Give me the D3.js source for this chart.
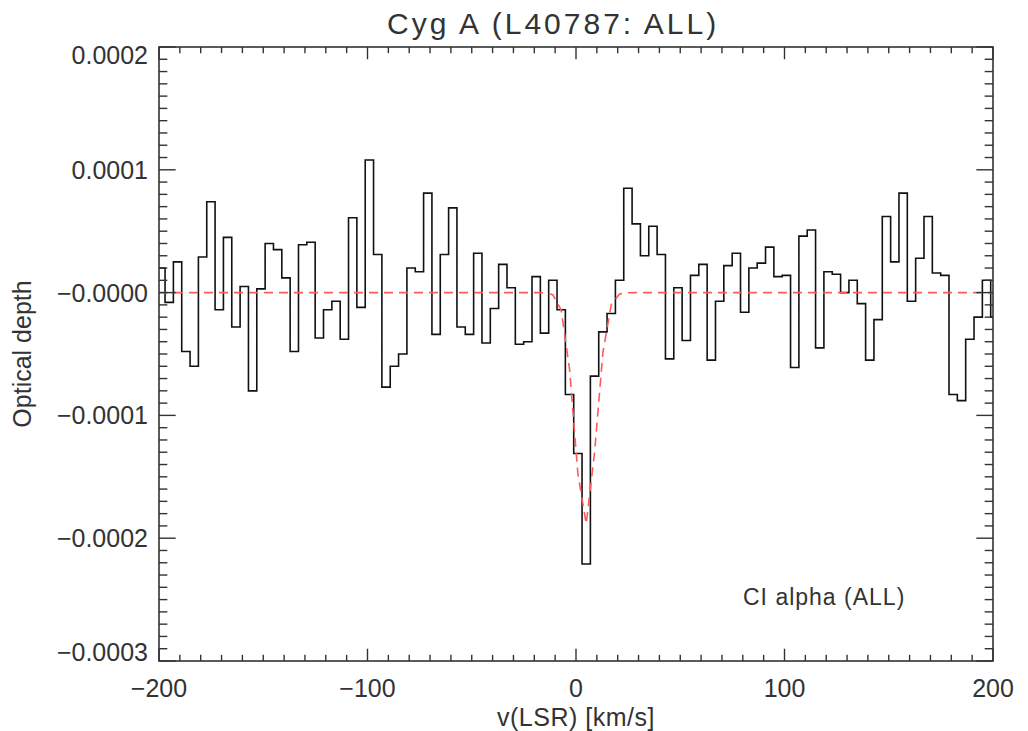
<!DOCTYPE html>
<html>
<head>
<meta charset="utf-8">
<script src="https://cdn.jsdelivr.net/npm/d3@7"></script>
<style>
  html, body { margin: 0; padding: 0; background: #fff; }
  svg text { font-family: "Liberation Sans", Arial, sans-serif; fill: #333; }
</style>
</head>
<body>
<svg id="chart" width="1028" height="731"></svg>
<script>
// Channel centre velocities, v(LSR) in km/s
const velocity = [
  -199.1, -195.1, -191.1, -187.1, -183.1, -179.1, -175.1, -171.1, -167.1, -163.1,
  -159.1, -155.1, -151.1, -147.1, -143.1, -139.1, -135.1, -131.1, -127.1, -123.1,
  -119.1, -115.1, -111.1, -107.1, -103.1,  -99.1,  -95.1,  -91.1,  -87.1,  -83.1,
   -79.1,  -75.1,  -71.1,  -67.1,  -63.1,  -59.1,  -55.1,  -51.1,  -47.1,  -43.1,
   -39.1,  -35.1,  -31.1,  -27.1,  -23.1,  -19.1,  -15.1,  -11.1,   -7.1,   -3.1,
     0.9,    4.9,    8.9,   12.9,   16.9,   20.9,   24.9,   28.9,   32.9,   36.9,
    40.9,   44.9,   48.9,   52.9,   56.9,   60.9,   64.9,   68.9,   72.9,   76.9,
    80.9,   84.9,   88.9,   92.9,   96.9,  100.9,  104.9,  108.9,  112.9,  116.9,
   120.9,  124.9,  128.9,  132.9,  136.9,  140.9,  144.9,  148.9,  152.9,  156.9,
   160.9,  164.9,  168.9,  172.9,  176.9,  180.9,  184.9,  188.9,  192.9,  196.9,
   200.9
];

// Optical depth per channel, in units of 1e-4
const tau1e4 = [
   0.20, -0.08,  0.25, -0.48, -0.60,  0.29,  0.74, -0.14,  0.45, -0.28,
   0.05, -0.80,  0.03,  0.40,  0.35,  0.12, -0.48,  0.39,  0.41, -0.37,
  -0.14, -0.07, -0.38,  0.61, -0.12,  1.08,  0.31, -0.77, -0.60, -0.50,
   0.20,  0.17,  0.81, -0.34,  0.31,  0.69, -0.28, -0.34,  0.32, -0.41,
  -0.13,  0.23,  0.04, -0.42, -0.40,  0.13, -0.33,  0.10, -0.14, -0.83,
  -1.31, -2.21, -0.68, -0.32, -0.17,  0.10,  0.85,  0.56,  0.30,  0.54,
   0.31, -0.54,  0.04, -0.39,  0.14,  0.23, -0.55, -0.07,  0.22,  0.32,
  -0.16,  0.20,  0.24,  0.37,  0.13,  0.14, -0.61,  0.46,  0.51, -0.45,
   0.17,  0.15,  0.00,  0.10, -0.09, -0.55, -0.22,  0.62,  0.25,  0.81,
  -0.07,  0.28,  0.62,  0.16,  0.14, -0.83, -0.88, -0.38, -0.20,  0.10,
  -0.20
];

// Single Gaussian fit to the line (amplitude in 1e-4, centre and sigma in km/s)
const fitAmplitude = -1.89;
const fitCentre = 4.5;
const fitSigma = 5.1;

// Axis ticks
const xTicks = [-200, -100, 0, 100, 200];
const xTickLabels = ["\u2212200", "\u2212100", "0", "100", "200"];
const yTicks = [2, 1, 0, -1, -2, -3];
const yTickLabels = ["0.0002", "0.0001", "\u22120.0000", "\u22120.0001", "\u22120.0002", "\u22120.0003"];

const svg = d3.select("#chart");
const W = 1028, H = 731;
const margin = { left: 159, right: 35, top: 47, bottom: 70 };
const x0 = margin.left, x1 = W - margin.right;
const y0 = margin.top, y1 = H - margin.bottom;

const x = d3.scaleLinear().domain([-200, 200]).range([x0, x1]);
const y = d3.scaleLinear().domain([-3, 2]).range([y1, y0]);

svg.append("defs").append("clipPath").attr("id", "plotClip")
  .append("rect").attr("x", x0).attr("y", y0).attr("width", x1 - x0).attr("height", y1 - y0);

const plot = svg.append("g").attr("clip-path", "url(#plotClip)");

// Histogram-style spectrum: steps half-way between channels, end bins extended
const half = (velocity[1] - velocity[0]) / 2;
const edges = [];
edges.push([velocity[0] - half, tau1e4[0]]);
for (let i = 1; i < velocity.length; i++) edges.push([(velocity[i - 1] + velocity[i]) / 2, tau1e4[i]]);
edges.push([velocity[velocity.length - 1] + half, tau1e4[tau1e4.length - 1]]);
const stepLine = d3.line().x(d => x(d[0])).y(d => y(d[1])).curve(d3.curveStepAfter);

plot.append("path")
  .attr("d", stepLine(edges))
  .attr("fill", "none")
  .attr("stroke", "#111")
  .attr("stroke-width", 1.6)
  .attr("stroke-linejoin", "miter");

// Gaussian model evaluated at the channel centres
const fit = velocity.map(v => [v, fitAmplitude * Math.exp(-((v - fitCentre) ** 2) / (2 * fitSigma * fitSigma))]);
const fitPts = [[-200, fit[0][1]], ...fit];
plot.append("path")
  .attr("d", d3.line().x(d => x(d[0])).y(d => y(d[1]))(fitPts))
  .attr("fill", "none")
  .attr("stroke", "#ff5a5a")
  .attr("stroke-width", 1.6)
  .attr("stroke-dasharray", "9,6");

// Frame with ticks on all four sides
const axisColor = "#333";
const xMajor = 0.02 * (y1 - y0), xMinor = xMajor / 2;
const yMajor = 0.02 * (x1 - x0), yMinor = yMajor / 2;

const frame = svg.append("g");
frame.append("rect").attr("x", x0).attr("y", y0).attr("width", x1 - x0).attr("height", y1 - y0)
  .attr("fill", "none").attr("stroke", axisColor).attr("stroke-width", 1.6);

d3.range(-200, 201, 10).forEach(v => {
  const len = (v % 100 === 0) ? xMajor : xMinor;
  frame.append("line").attr("x1", x(v)).attr("x2", x(v)).attr("y1", y1).attr("y2", y1 - len)
    .attr("stroke", axisColor).attr("stroke-width", 1.4);
  frame.append("line").attr("x1", x(v)).attr("x2", x(v)).attr("y1", y0).attr("y2", y0 + len)
    .attr("stroke", axisColor).attr("stroke-width", 1.4);
});
d3.range(-30, 21, 1).map(d => d / 10).forEach((t, i) => {
  const len = ((i % 10) === 0) ? yMajor : yMinor;
  frame.append("line").attr("x1", x0).attr("x2", x0 + len).attr("y1", y(t)).attr("y2", y(t))
    .attr("stroke", axisColor).attr("stroke-width", 1.4);
  frame.append("line").attr("x1", x1).attr("x2", x1 - len).attr("y1", y(t)).attr("y2", y(t))
    .attr("stroke", axisColor).attr("stroke-width", 1.4);
});

// Tick labels
const fs = 25;
svg.append("g").selectAll("text").data(xTicks).join("text")
  .attr("x", d => x(d)).attr("y", y1 + 36)
  .attr("text-anchor", "middle").attr("font-size", fs)
  .text((d, i) => xTickLabels[i]);

svg.append("g").selectAll("text").data(yTicks).join("text")
  .attr("x", x0 - 11)
  .attr("y", (d, i) => {
    if (i === 0) return y(d) + 17;            // top label kept inside the frame
    if (i === yTicks.length - 1) return y(d); // bottom label kept inside the frame
    return y(d) + 9;
  })
  .attr("text-anchor", "end").attr("font-size", fs)
  .text((d, i) => yTickLabels[i]);

// Titles
svg.append("text").attr("x", 387).attr("y", 34)
  .attr("text-anchor", "start").attr("font-size", 30).attr("letter-spacing", 3)
  .text("Cyg A (L40787: ALL)");

svg.append("text").attr("x", (x0 + x1) / 2).attr("y", 726)
  .attr("text-anchor", "middle").attr("font-size", fs).attr("letter-spacing", 0.5)
  .text("v(LSR) [km/s]");

svg.append("text")
  .attr("transform", `translate(31,${(y0 + y1) / 2}) rotate(-90)`)
  .attr("text-anchor", "middle").attr("font-size", fs)
  .text("Optical depth");

svg.append("text").attr("x", 743).attr("y", 605)
  .attr("font-size", 23).attr("letter-spacing", 1)
  .text("CI alpha (ALL)");
</script>
</body>
</html>
